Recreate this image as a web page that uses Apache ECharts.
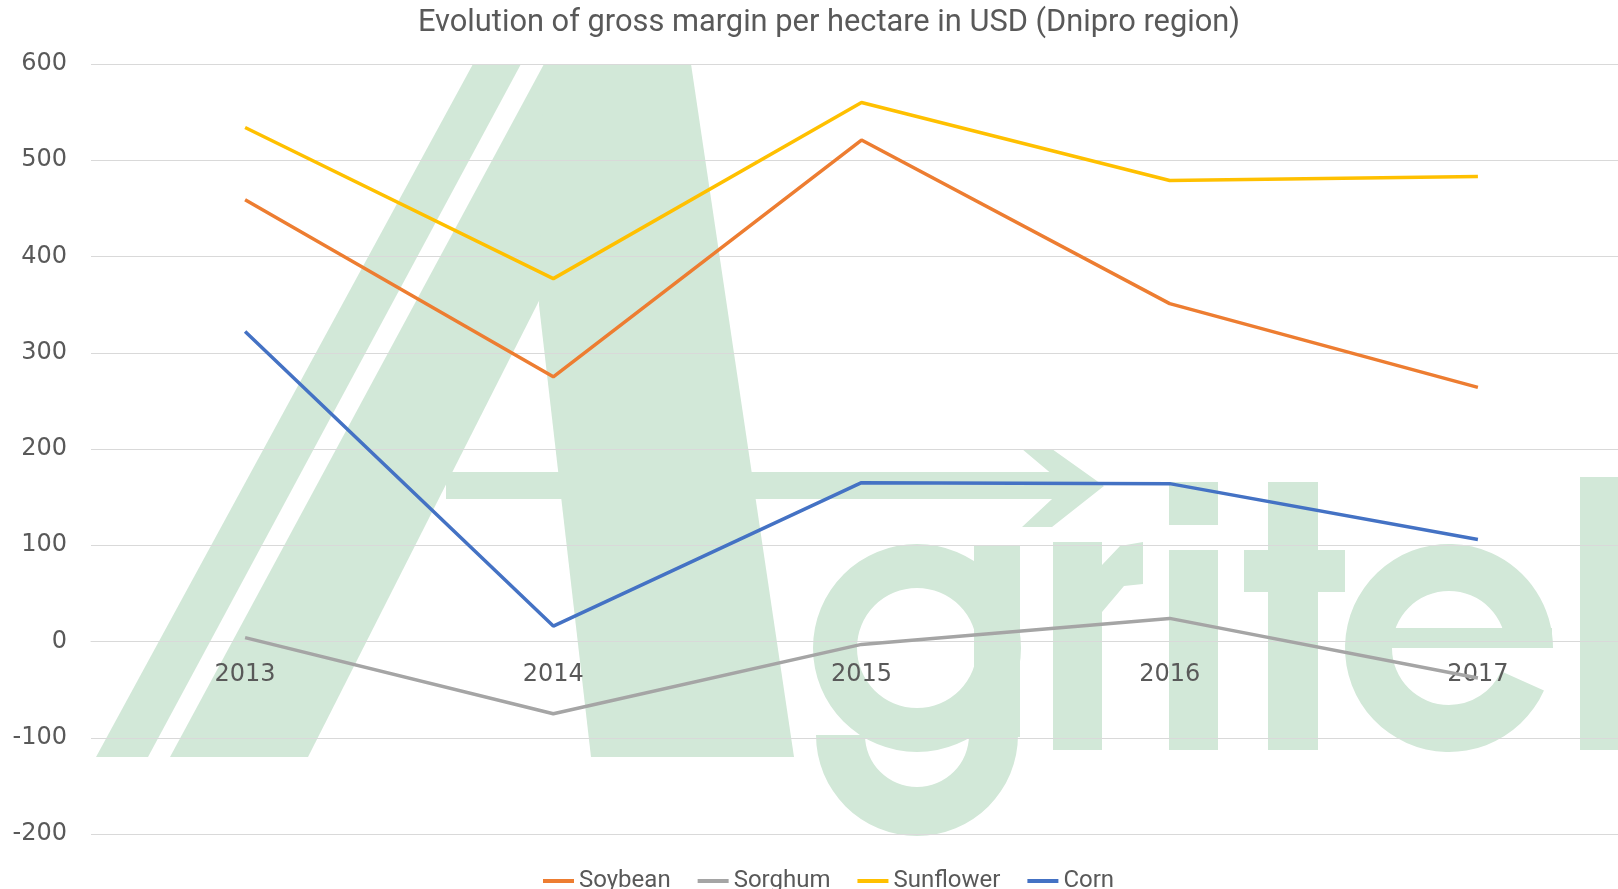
<!DOCTYPE html>
<html>
<head>
<meta charset="utf-8">
<script src="https://cdn.jsdelivr.net/npm/echarts@6/dist/echarts.min.js"></script>
<style>
  html, body { margin: 0; padding: 0; background: #fff; }
  #lineChart { width: 1618px; height: 889px; }
</style>
</head>
<body>
<div id="lineChart"></div>
<script>
  var years = ['2013', '2014', '2015', '2016', '2017']
  var soybean = [459, 275, 521, 351, 264]
  var sorghum = [4, -75, -3, 24, -38]
  var sunflower = [534, 377, 560, 479, 483]
  var corn = [322, 16, 165, 164, 106]
  var yTicks = { min: -200, max: 600, step: 100 }

  var lineData = [
    { name: 'Soybean', data: soybean, color: '#ED7D31' },
    { name: 'Sorghum', data: sorghum, color: '#A5A5A5' },
    { name: 'Sunflower', data: sunflower, color: '#FFC000' },
    { name: 'Corn', data: corn, color: '#4472C4' }
  ]

  var gridTop = 64
  var gridBottom = 55
  var gridHeight = 889 - gridTop - gridBottom
  // x labels sit on the zero line
  var zeroOffset = -(0 - yTicks.min) / (yTicks.max - yTicks.min) * gridHeight

  // agritel watermark behind the plot
  var wm = '#d2e8d8'
  var watermark = [
    { type: 'polygon', shape: { points: [[96, 757], [148, 757], [521, 64], [473, 64]] } },
    { type: 'polygon', shape: { points: [[170, 757], [308, 757], [659, 64], [544, 64]] } },
    { type: 'polygon', shape: { points: [[539, 305], [591, 757], [794, 757], [691, 64], [544, 64]] } },
    { type: 'rect', shape: { x: 446, y: 472, width: 636, height: 27 } },
    { type: 'polygon', shape: { points: [[1022, 449], [1052, 449], [1104, 486], [1052, 527], [1022, 527], [1066, 486]] } },
    // g
    { type: 'ring', shape: { cx: 917, cy: 648, r: 104, r0: 60 } },
    { type: 'rect', shape: { x: 974, y: 545, width: 46, height: 192 } },
    { type: 'sector', shape: { cx: 917, cy: 735, r: 101, r0: 52, startAngle: 0, endAngle: Math.PI, clockwise: true } },
    // r
    { type: 'rect', shape: { x: 1053, y: 542, width: 49, height: 208 } },
    { type: 'polygon', shape: { points: [[1102, 565], [1120, 546], [1143, 542], [1143, 584], [1124, 586], [1102, 612]] } },
    // i
    { type: 'rect', shape: { x: 1169, y: 482, width: 49, height: 43 } },
    { type: 'rect', shape: { x: 1169, y: 550, width: 49, height: 200 } },
    // t
    { type: 'rect', shape: { x: 1268, y: 482, width: 50, height: 268 } },
    { type: 'rect', shape: { x: 1244, y: 550, width: 101, height: 42 } },
    // e
    { type: 'sector', shape: { cx: 1449, cy: 648, r: 104, r0: 57, startAngle: 0.42, endAngle: Math.PI * 2, clockwise: true } },
    { type: 'rect', shape: { x: 1392, y: 628, width: 160, height: 20 } },
    // l
    { type: 'rect', shape: { x: 1580, y: 477, width: 60, height: 273 } }
  ]
  watermark.forEach(function (item) {
    item.z = -10
    item.silent = true
    item.style = { fill: wm }
  })

  var myChart = echarts.init(document.getElementById('lineChart'))

  var seriesData = []
  var legendList = []
  lineData.map(function (item) {
    legendList.push(item.name)
    seriesData.push({
      name: item.name,
      type: 'line',
      data: item.data,
      symbol: 'none',
      lineStyle: { color: item.color, width: 3.5 },
      itemStyle: { color: item.color }
    })
  })

  var option = {
    animation: false,
    title: {
      text: 'Evolution of gross margin per hectare in USD (Dnipro region)',
      left: 824,
      textAlign: 'center',
      top: 3,
      textStyle: {
        color: '#595959',
        fontFamily: 'Roboto',
        fontWeight: 'normal',
        fontSize: 30.8
      }
    },
    legend: {
      data: legendList,
      left: 538,
      top: 864,
      icon: 'rect',
      itemWidth: 31,
      itemHeight: 4,
      itemGap: 27,
      textStyle: {
        color: '#595959',
        fontFamily: 'Roboto',
        fontSize: 24
      }
    },
    graphic: watermark,
    grid: {
      left: 91,
      width: 1541,
      top: gridTop,
      bottom: gridBottom,
      outerBoundsMode: 'none',
      containLabel: false
    },
    xAxis: {
      type: 'category',
      data: years,
      boundaryGap: true,
      offset: zeroOffset,
      axisLine: { show: true, onZero: false, lineStyle: { color: '#d9d9d9', width: 1 } },
      axisTick: { show: false },
      axisLabel: {
        color: '#595959',
        fontFamily: 'DejaVu Sans',
        fontSize: 24,
        margin: 21
      },
      splitLine: { show: false }
    },
    yAxis: {
      type: 'value',
      min: yTicks.min,
      max: yTicks.max,
      interval: yTicks.step,
      axisLine: { show: false },
      axisTick: { show: false },
      axisLabel: {
        color: '#595959',
        fontFamily: 'DejaVu Sans',
        fontSize: 24,
        margin: 24
      },
      splitLine: { show: true, lineStyle: { color: '#d9d9d9', width: 1 } }
    },
    series: seriesData
  }
  myChart.setOption(option)
</script>
</body>
</html>
